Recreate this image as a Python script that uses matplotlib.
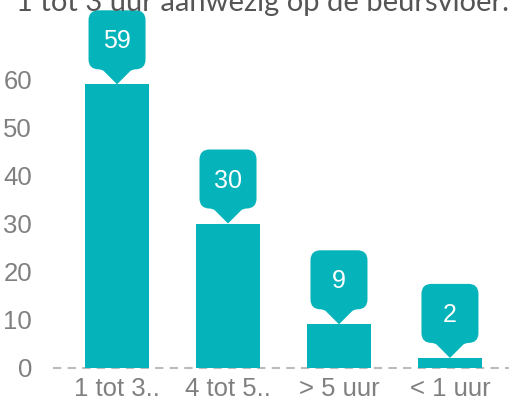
import matplotlib
matplotlib.use("Agg")
import matplotlib.pyplot as plt
from matplotlib.path import Path
from matplotlib.patches import PathPatch
import matplotlib.transforms as mtransforms

categories = ["1 tot 3..", "4 tot 5..", "> 5 uur", "< 1 uur"]
values = [59, 30, 9, 2]
yticks = [0, 10, 20, 30, 40, 50, 60]
title = "1 tot 3 uur aanwezig op de beursvloer."

TEAL = "#05B3BA"
GRAY = "#808080"

W, H = 509, 403
fig = plt.figure(figsize=(W / 100, H / 100), dpi=100)
ax_left, ax_right = 53, 509
y0_px = 367.5
ax = fig.add_axes([ax_left / W, (H - y0_px) / H, (ax_right - ax_left) / W, y0_px / H])
ax.set_ylim(0, y0_px / 4.8)
ax.set_xlim(-0.577, 3.532)

x = list(range(len(categories)))
ax.bar(x, values, width=0.585, color=TEAL, zorder=2)

ax.axhline(0, color="#BBBBBB", lw=1.5, ls=(0, (4, 3)), zorder=1, clip_on=False)

for s in ax.spines.values():
    s.set_visible(False)
ax.set_yticks(yticks)
ax.set_yticklabels([str(t) for t in yticks], fontsize=18.5, color=GRAY, family="Liberation Sans")
ax.set_xticks(x)
ax.set_xticklabels(categories, fontsize=18.5, color=GRAY, family="Liberation Sans")
ax.tick_params(length=0)
ax.tick_params(axis="x", pad=7)
ax.tick_params(axis="y", pad=15)

# callout bubble path in pixel units relative to tip
hw, pb, top, r = 28.5, 15.0, 74.0, 10.0
verts = [
    (0, 0),
    (-13, 13), (-15, pb), (-19, pb),
    (-hw + r, pb),
    (-hw, pb), (-hw, pb + r),
    (-hw, top - r),
    (-hw, top), (-hw + r, top),
    (hw - r, top),
    (hw, top), (hw, top - r),
    (hw, pb + r),
    (hw, pb), (hw - r, pb),
    (19, pb),
    (15, pb), (13, 13),
    (0, 0),
]
codes = [
    Path.MOVETO,
    Path.LINETO, Path.CURVE3, Path.CURVE3,
    Path.LINETO,
    Path.CURVE3, Path.CURVE3,
    Path.LINETO,
    Path.CURVE3, Path.CURVE3,
    Path.LINETO,
    Path.CURVE3, Path.CURVE3,
    Path.LINETO,
    Path.CURVE3, Path.CURVE3,
    Path.LINETO,
    Path.CURVE3, Path.CURVE3,
    Path.CLOSEPOLY,
]
bubble = Path(verts, codes)

for xi, v in zip(x, values):
    tr = mtransforms.Affine2D() + mtransforms.ScaledTranslation(xi, v, ax.transData)
    ax.add_patch(PathPatch(bubble, transform=tr, facecolor=TEAL, edgecolor="none",
                           zorder=3, clip_on=False))
    ax.annotate(str(v), (xi, v), xytext=(0, 43 * 72 / 100), textcoords="offset points",
                ha="center", va="center", color="white", fontsize=18,
                family="Liberation Sans", zorder=4)

fig.text(262 / W, 1 - 11 / H, title, ha="center", va="baseline", fontsize=21,
         color="#555555", family="Lato")

fig.savefig("out.png", dpi=100)
